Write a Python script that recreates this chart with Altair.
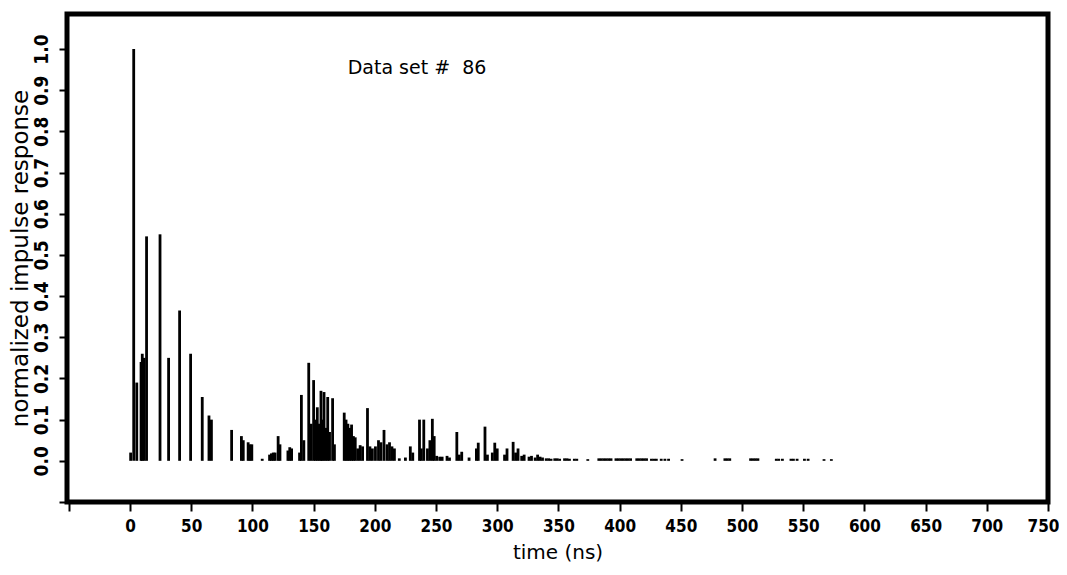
import altair as alt
import pandas as pd

# ---- data (time in ns, normalized response) ----
direct_t = [0.5, 3, 5.5, 9, 10, 11.5, 13.5, 24.5, 31.5, 40.5, 49.5, 59, 64.5, 66.5]
direct_v = [0.02, 1.0, 0.19, 0.24, 0.26, 0.25, 0.545, 0.55, 0.25, 0.365, 0.26, 0.155, 0.11, 0.10]

second_t = [83, 91, 92.5, 96.5, 98, 99.5, 108, 114, 115.5, 117, 118.5, 121, 122.5, 129, 130.5, 132]
second_v = [0.075, 0.06, 0.05, 0.045, 0.04, 0.04, 0.005, 0.015, 0.018, 0.02, 0.02, 0.06, 0.04, 0.025, 0.033, 0.03]

third_t = [138.5, 140, 142, 146, 148, 150, 151.5, 153, 154.5, 156, 157, 158.5, 160, 161.5, 163,
           165.5, 167, 175, 176.5, 178, 179.5, 181, 182.5, 184, 186, 188, 190, 194, 196, 198,
           200.5, 203, 205, 207.5, 210, 212, 214, 216, 220]
third_v = [0.02, 0.16, 0.05, 0.238, 0.09, 0.196, 0.1, 0.13, 0.09, 0.17, 0.1, 0.167, 0.08, 0.155, 0.07,
           0.152, 0.04, 0.117, 0.1, 0.09, 0.08, 0.088, 0.06, 0.057, 0.03, 0.038, 0.035, 0.128, 0.035, 0.03,
           0.035, 0.05, 0.045, 0.075, 0.04, 0.045, 0.035, 0.03, 0.006]

fourth_t = [225, 229, 231, 236.5, 238, 240, 243, 245, 247, 248.5, 250.5, 253, 255, 259, 261, 267, 269,
            271, 277, 283, 284.5, 290, 292, 296, 298, 300, 306, 308, 313, 315, 317, 320, 322, 326,
            328, 331, 333, 335, 337]
fourth_v = [0.008, 0.035, 0.02, 0.1, 0.03, 0.1, 0.03, 0.05, 0.102, 0.06, 0.012, 0.01, 0.01, 0.012, 0.008,
            0.07, 0.015, 0.022, 0.008, 0.03, 0.044, 0.083, 0.015, 0.02, 0.044, 0.03, 0.015, 0.03, 0.046,
            0.02, 0.03, 0.012, 0.015, 0.01, 0.012, 0.008, 0.015, 0.01, 0.008]

tail_t = [340, 342, 344, 347, 349, 351, 355, 357, 359, 363, 365, 374, 383, 385, 387, 389, 391, 393,
          397, 399, 401, 403, 405, 407, 409, 414, 416, 418, 420, 422, 426, 428, 430, 434, 437, 440,
          451, 478, 486, 488, 490, 507, 509, 511, 513, 528, 530, 533, 540, 542, 545, 551, 554, 567, 573]
tail_v = [0.006, 0.006, 0.005, 0.006, 0.006, 0.005, 0.006, 0.006, 0.005, 0.005, 0.005, 0.004, 0.006,
          0.006, 0.006, 0.006, 0.006, 0.006, 0.006, 0.006, 0.006, 0.006, 0.006, 0.006, 0.006, 0.006,
          0.006, 0.006, 0.006, 0.006, 0.005, 0.005, 0.005, 0.005, 0.005, 0.005, 0.004, 0.006, 0.006,
          0.006, 0.006, 0.006, 0.006, 0.006, 0.006, 0.005, 0.005, 0.005, 0.005, 0.005, 0.005, 0.005,
          0.005, 0.004, 0.004]

x_ticks = list(range(-50, 751, 50))
y_ticks = [-0.1, 0.0, 0.1, 0.2, 0.3, 0.4, 0.5, 0.6, 0.7, 0.8, 0.9, 1.0]
label_text = "Data set #\u00a0 86"

df = pd.DataFrame({
    "t": direct_t + second_t + third_t + fourth_t + tail_t,
    "v": direct_v + second_v + third_v + fourth_v + tail_v,
})

LABEL_FONT = "Liberation Sans Narrow, DejaVu Sans Condensed, sans-serif"
TITLE_FONT = "DejaVu Sans, sans-serif"

x_enc = alt.X(
    "t:Q",
    scale=alt.Scale(domain=[-51.5, 750], nice=False, zero=False),
    axis=alt.Axis(
        title="time (ns)", values=x_ticks,
        labelExpr="datum.value < 0 ? '' : datum.value",
        domain=False, grid=False, ticks=True, tickSize=9, tickWidth=2, tickColor="black",
        labelFont=LABEL_FONT, labelFontSize=17, labelFontWeight="bold", labelColor="black",
        labelPadding=7,
        titleFont=TITLE_FONT, titleFontSize=20, titleFontWeight="normal", titleColor="black",
        titlePadding=8, labelFlush=True, labelFlushOffset=11,
    ),
)
y_enc = alt.Y(
    "v:Q",
    scale=alt.Scale(domain=[-0.1, 1.085], nice=False, zero=False),
    axis=alt.Axis(
        title="normalized impulse response", values=y_ticks,
        labelExpr="datum.value < -0.05 ? '' : format(datum.value, '.1f')",
        domain=False, grid=False, ticks=True, tickSize=8, tickWidth=2, tickColor="black",
        labelFont=LABEL_FONT, labelFontSize=19, labelFontWeight="bold", labelColor="black",
        labelPadding=8,
        labelAngle=-90, labelAlign="center", labelBaseline="bottom", labelFlush=False,
        titleFont=TITLE_FONT, titleFontSize=23, titleFontWeight="normal", titleColor="black",
        titlePadding=0,
    ),
)

bars = alt.Chart(df).mark_rule(color="black", strokeWidth=2.8).encode(
    x=x_enc, y=y_enc, y2=alt.datum(0)
)

label = alt.Chart(pd.DataFrame({"txt": [label_text]})).mark_text(
    font=TITLE_FONT, fontSize=19, color="black", align="center", baseline="middle"
).encode(x=alt.value(350), y=alt.value(54), text="txt:N")

chart = alt.layer(bars, label).properties(
    width=981, height=488,
    autosize=alt.AutoSizeParams(type="none"),
    padding={"left": 59, "top": 6, "right": 11, "bottom": 65},
    background="white",
).configure_view(stroke="black", strokeWidth=5)

chart.save("out.html", embed_options={"renderer": "svg", "actions": False})
